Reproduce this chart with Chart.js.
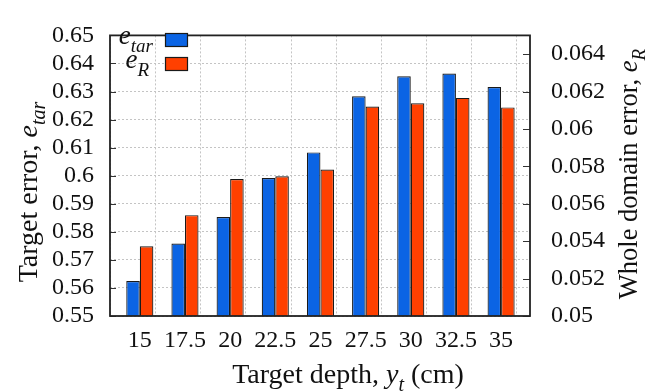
<!DOCTYPE html>
<html><head><meta charset="utf-8">
<script src="https://cdn.jsdelivr.net/npm/chart.js@4/dist/chart.umd.min.js"></script>
<style>html,body{margin:0;padding:0;background:#fff}#wrap{width:646px;height:392px}</style>
</head><body><div id="wrap"><canvas id="c" width="646" height="392"></canvas></div>
<script>
// ---- data ----
const depths = [15, 17.5, 20, 22.5, 25, 27.5, 30, 32.5, 35];
const depthLabels = ['15', '17.5', '20', '22.5', '25', '27.5', '30', '32.5', '35'];
const eTar = [0.5625, 0.5758, 0.5853, 0.5992, 0.6083, 0.6283, 0.6354, 0.6364, 0.6316];
const eR = [0.05373, 0.05539, 0.05732, 0.05747, 0.05783, 0.0612, 0.06137, 0.06166, 0.06115];
const leftTicks = [0.55, 0.56, 0.57, 0.58, 0.59, 0.6, 0.61, 0.62, 0.63, 0.64, 0.65];
const leftTickLabels = ['0.55', '0.56', '0.57', '0.58', '0.59', '0.6', '0.61', '0.62', '0.63', '0.64', '0.65'];
const rightTicks = [0.05, 0.052, 0.054, 0.056, 0.058, 0.06, 0.062, 0.064];
const rightTickLabels = ['0.05', '0.052', '0.054', '0.056', '0.058', '0.06', '0.062', '0.064'];

const FONT = '"Liberation Serif", "DejaVu Serif", serif';
const FS = 24;
const BLUE = '#0b64e4';
const RED = '#ff4000';
const INK = '#1a1a1a';

function drawRich(ctx, parts, x, y, align, size) {
  const sub = Math.round(size * 0.72);
  const off = Math.round(size * 0.3);
  let w = 0;
  const ms = parts.map(p => {
    ctx.font = (p.italic ? 'italic ' : '') + (p.sub ? sub : size) + 'px ' + FONT;
    const m = ctx.measureText(p.text).width;
    w += m;
    return m;
  });
  let cx = align === 'center' ? x - w / 2 : (align === 'right' ? x - w : x);
  parts.forEach((p, i) => {
    ctx.font = (p.italic ? 'italic ' : '') + (p.sub ? sub : size) + 'px ' + FONT;
    ctx.fillText(p.text, cx, y + (p.sub ? off : 0));
    cx += ms[i];
  });
}

const decor = {
  id: 'decor',
  afterDatasetsDraw(chart) {
    const {ctx, chartArea: a, scales} = chart;
    ctx.save();
    ctx.strokeStyle = '#333';
    ctx.lineWidth = 1;
    ctx.beginPath();
    leftTicks.forEach(v => {
      const y = Math.round(scales.y.getPixelForValue(v)) + 0.5;
      ctx.moveTo(a.left, y); ctx.lineTo(a.left + 6, y);
    });
    rightTicks.forEach(v => {
      const y = Math.round(scales.y1.getPixelForValue(v)) + 0.5;
      ctx.moveTo(a.right, y); ctx.lineTo(a.right - 7, y);
    });
    ctx.stroke();
    ctx.strokeStyle = '#222';
    ctx.lineWidth = 1.8;
    ctx.strokeRect(a.left, a.top, a.right - a.left, a.bottom - a.top);
    ctx.restore();
  },
  afterDraw(chart) {
    const {ctx} = chart;
    ctx.save();
    ctx.fillStyle = '#111';
    ctx.textBaseline = 'alphabetic';
    // legend
    drawRich(ctx, [{text: 'e', italic: true}, {text: 'tar', italic: true, sub: true}], 153, 44, 'right', 27);
    drawRich(ctx, [{text: 'e', italic: true}, {text: 'R', italic: true, sub: true}], 149, 68, 'right', 27);
    ctx.lineWidth = 1.2;
    ctx.strokeStyle = INK;
    ctx.fillStyle = BLUE;
    ctx.fillRect(165.5, 33.5, 22, 13); ctx.strokeRect(165.5, 33.5, 22, 13);
    ctx.fillStyle = RED;
    ctx.fillRect(165.5, 57.5, 22, 13); ctx.strokeRect(165.5, 57.5, 22, 13);
    ctx.fillStyle = '#111';
    // x title
    drawRich(ctx, [{text: 'Target depth, '}, {text: 'y', italic: true}, {text: 't', italic: true, sub: true}, {text: ' (cm)'}], 348, 383, 'center', 28);
    // left title
    ctx.save();
    ctx.translate(37, 192);
    ctx.rotate(-Math.PI / 2);
    drawRich(ctx, [{text: 'Target error, '}, {text: 'e', italic: true}, {text: 'tar', italic: true, sub: true}], 0, 0, 'center', 28);
    ctx.restore();
    // right title
    ctx.save();
    ctx.translate(637, 174);
    ctx.rotate(-Math.PI / 2);
    drawRich(ctx, [{text: 'Whole domain error, '}, {text: 'e', italic: true}, {text: 'R', italic: true, sub: true}], 0, 0, 'center', 26.5);
    ctx.restore();
    ctx.restore();
  }
};

const tickFont = {family: FONT, size: FS};

new Chart(document.getElementById('c'), {
  type: 'bar',
  data: {
    datasets: [
      {label: 'e_tar', yAxisID: 'y', data: depths.map((d, i) => ({x: d, y: eTar[i]})),
       backgroundColor: BLUE, borderColor: INK, borderWidth: 1.2},
      {label: 'e_R', yAxisID: 'y1', data: depths.map((d, i) => ({x: d, y: eR[i]})),
       backgroundColor: RED, borderColor: INK, borderWidth: 1.2}
    ]
  },
  options: {
    responsive: false,
    devicePixelRatio: 1,
    animation: false,
    categoryPercentage: 0.6,
    barPercentage: 1.0,
    layout: {padding: {top: 21, left: 0, right: 0, bottom: 0}},
    plugins: {legend: {display: false}, tooltip: {enabled: false}},
    scales: {
      x: {
        type: 'linear', position: 'bottom', min: 13.35, max: 36.6, offset: false,
        afterBuildTicks: s => { s.ticks = depths.map(d => ({value: d - 0.375})); },
        afterFit: s => { s.height = 76; },
        ticks: {callback: (v, i) => depthLabels[i], labelOffset: 6.8, font: tickFont, color: '#111',
                padding: 10, maxRotation: 0, autoSkip: false},
        grid: {color: '#c4c4c4', lineWidth: 1, drawTicks: false},
        border: {display: false, dash: [2, 2]}
      },
      y: {
        position: 'left', min: 0.55, max: 0.65,
        afterBuildTicks: s => { s.ticks = leftTicks.map(v => ({value: v})); },
        afterFit: s => { s.width = 110; },
        ticks: {callback: (v, i) => leftTickLabels[i], font: tickFont, color: '#111', padding: 16, autoSkip: false},
        grid: {color: '#c4c4c4', lineWidth: 1, drawTicks: false},
        border: {display: false, dash: [2, 2]}
      },
      y1: {
        position: 'right', min: 0.05, max: 0.065,
        afterBuildTicks: s => { s.ticks = rightTicks.map(v => ({value: v})); },
        afterFit: s => { s.width = 116; },
        ticks: {callback: (v, i) => rightTickLabels[i], font: tickFont, color: '#111', padding: 21, autoSkip: false},
        grid: {drawOnChartArea: false, drawTicks: false},
        border: {display: false}
      }
    }
  },
  plugins: [decor]
});
</script>
</body></html>
